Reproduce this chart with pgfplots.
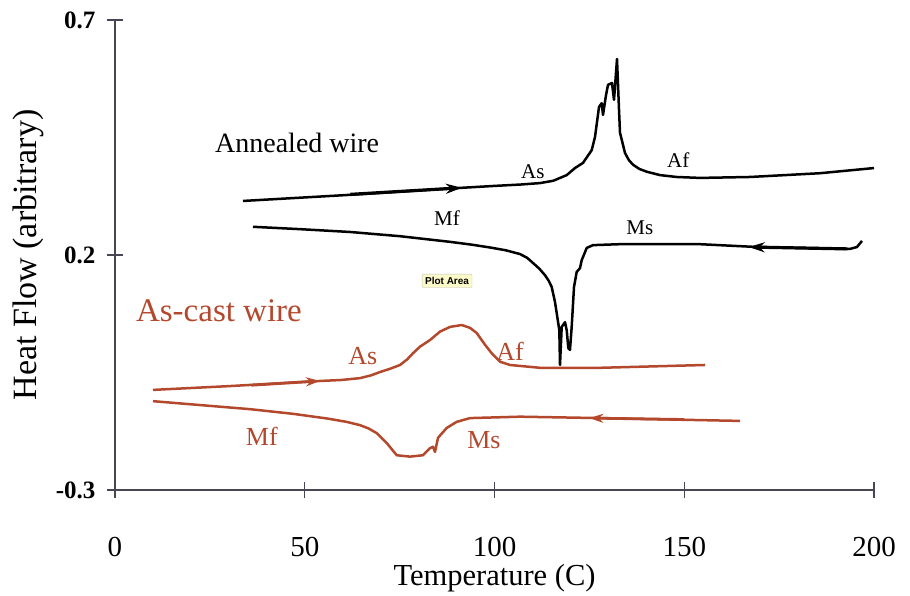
\documentclass[border=0pt]{standalone}
\usepackage{fontspec}
\setmainfont{Liberation Serif}
\newfontfamily\sansf{Liberation Sans}
\usepackage{pgfplots}
\pgfplotsset{compat=1.18}
\usetikzlibrary{arrows.meta}
\definecolor{castred}{RGB}{180,72,45}
\definecolor{axisgray}{RGB}{70,70,85}

\begin{document}
\begin{tikzpicture}
\useasboundingbox (-115pt,-105pt) rectangle (795pt,490pt);
\begin{axis}[
  scale only axis, width=759pt, height=470pt,
  xmin=0, xmax=200, ymin=-0.3, ymax=0.7,
  axis x line=bottom, axis y line=left,
  axis line style={-, axisgray, line width=1.2pt},
  xtick={0,50,100,150,200}, xticklabels={0,50,100,150,200},
  ytick={-0.3,0.2,0.7}, yticklabels={-0.3,0.2,0.7},
  tick align=center, major tick length=16pt,
  tick style={axisgray, line width=1.2pt},
  xticklabel style={font=\fontsize{29}{29}\selectfont, yshift=-36pt},
  yticklabel style={font=\fontsize{25}{25}\selectfont\bfseries, xshift=-8pt},
  xlabel={Temperature (C)}, ylabel={Heat Flow (arbitrary)},
  xlabel style={font=\fontsize{30.5}{30.5}\selectfont, at={(axis description cs:0.5,-0.187)}, anchor=center},
  ylabel style={font=\fontsize{34}{34}\selectfont, at={(axis description cs:-0.114,0.5)}, anchor=center},
  clip=false,
]
% annealed wire, heating
\addplot[black, line width=2.5pt, line join=round] coordinates {
  (33.73,0.315) (61.92,0.328) (91.44,0.343) (100.0,0.347) (107.0,0.350)
  (111.99,0.353) (115.5,0.358) (119.03,0.370)
  (121.21,0.385) (123.32,0.396) (125.61,0.423) (126.48,0.451) (127.54,0.515)
  (128.25,0.523) (128.59,0.498) (129.38,0.540) (129.91,0.562) (130.96,0.566)
  (131.49,0.530) (132.28,0.617) (132.81,0.509) (133.07,0.460) (134.39,0.417)
  (135.4,0.402) (136.50,0.392) (138.2,0.383) (140.18,0.377) (143.61,0.370)
  (148.0,0.366) (154.15,0.364) (167.33,0.366)
  (185.77,0.374) (200.0,0.385)
};
% annealed wire, cooling
\addplot[black, line width=2.5pt, line join=round] coordinates {
  (36.36,0.260) (48.75,0.255) (61.92,0.249) (75.10,0.240) (88.27,0.228)
  (94.0,0.222) (98.81,0.216) (103.0,0.210) (106.72,0.202) (108.6,0.194)
  (110.14,0.183) (111.8,0.171) (113.31,0.157) (114.3,0.145) (115.07,0.132)
  (115.94,0.100) (116.55,0.068) (117.08,0.040) (117.26,-0.034) (117.71,0.047)
  (118.58,0.057) (119.03,0.040) (119.45,0.002) (119.89,-0.002) (120.34,0.047)
  (120.95,0.132) (121.66,0.164) (122.53,0.172) (122.98,0.189) (124.30,0.215)
  (125.96,0.221) (133.07,0.223) (154.15,0.223) (169.17,0.217) (193.68,0.213)
  (195.52,0.217) (196.84,0.230)
};
% as-cast wire, heating
\addplot[castred, line width=2.5pt, line join=round] coordinates {
  (10.01,-0.087) (30.0,-0.079) (54.02,-0.068) (59.5,-0.066) (64.56,-0.062)
  (67.5,-0.056) (69.83,-0.049) (72.5,-0.042) (75.10,-0.034) (77.0,-0.022)
  (78.52,-0.009) (80.37,0.005) (83.00,0.019) (85.64,0.037) (88.27,0.047)
  (91.36,0.051) (93.54,0.045) (95.31,0.034) (97.50,0.009) (99.26,-0.009)
  (101.45,-0.027) (104.08,-0.034) (111.99,-0.040) (127.80,-0.040) (155.47,-0.034)
};
% as-cast wire, cooling
\addplot[castred, line width=2.5pt, line join=round] coordinates {
  (10.01,-0.111) (35.57,-0.128) (47.0,-0.138) (56.0,-0.148) (61.0,-0.155)
  (64.56,-0.162) (66.8,-0.169) (68.96,-0.179)
  (71.59,-0.200) (74.23,-0.226) (77.73,-0.229) (81.16,-0.226) (83.00,-0.211)
  (83.79,-0.208) (84.32,-0.219) (85.11,-0.189) (87.40,-0.168) (90.04,-0.155)
  (93.54,-0.147) (106.72,-0.144) (127.80,-0.147) (164.69,-0.153)
};
% direction arrows
\draw[black, line width=3.2pt, -{Stealth[length=16pt,width=10pt]}] (axis cs:62,0.329) -- (axis cs:91.4,0.343);
\draw[black, line width=3.2pt, -{Stealth[length=16pt,width=10pt]}] (axis cs:193,0.213) -- (axis cs:167,0.217);
\draw[castred, line width=2.8pt, -{Stealth[length=14pt,width=9pt]}] (axis cs:36,-0.077) -- (axis cs:54,-0.068);
\draw[castred, line width=2.8pt, -{Stealth[length=14pt,width=9pt]}] (axis cs:150,-0.150) -- (axis cs:125,-0.147);
% labels
\node[font=\fontsize{28}{28}\selectfont] at (axis cs:48.0,0.438) {Annealed wire};
\node[font=\fontsize{33}{33}\selectfont, text=castred] at (axis cs:27.4,0.081) {As-cast wire};
\begin{scope}[font=\fontsize{21}{21}\selectfont]
\node at (axis cs:110.1,0.377) {As};
\node at (axis cs:148.4,0.402) {Af};
\node at (axis cs:87.5,0.279) {Mf};
\node at (axis cs:138.3,0.257) {Ms};
\end{scope}
\begin{scope}[font=\fontsize{26}{26}\selectfont, text=castred]
\node at (axis cs:65.3,-0.015) {As};
\node at (axis cs:104.1,-0.006) {Af};
\node at (axis cs:38.7,-0.185) {Mf};
\node at (axis cs:97.2,-0.194) {Ms};
\end{scope}
\node[fill={rgb,255:red,252;green,250;blue,200}, draw=gray!50, rounded corners=1pt,
  inner sep=3pt, font=\sansf\bfseries\fontsize{10}{10}\selectfont] at (axis cs:87.5,0.145) {Plot Area};
\end{axis}
\end{tikzpicture}
\end{document}
